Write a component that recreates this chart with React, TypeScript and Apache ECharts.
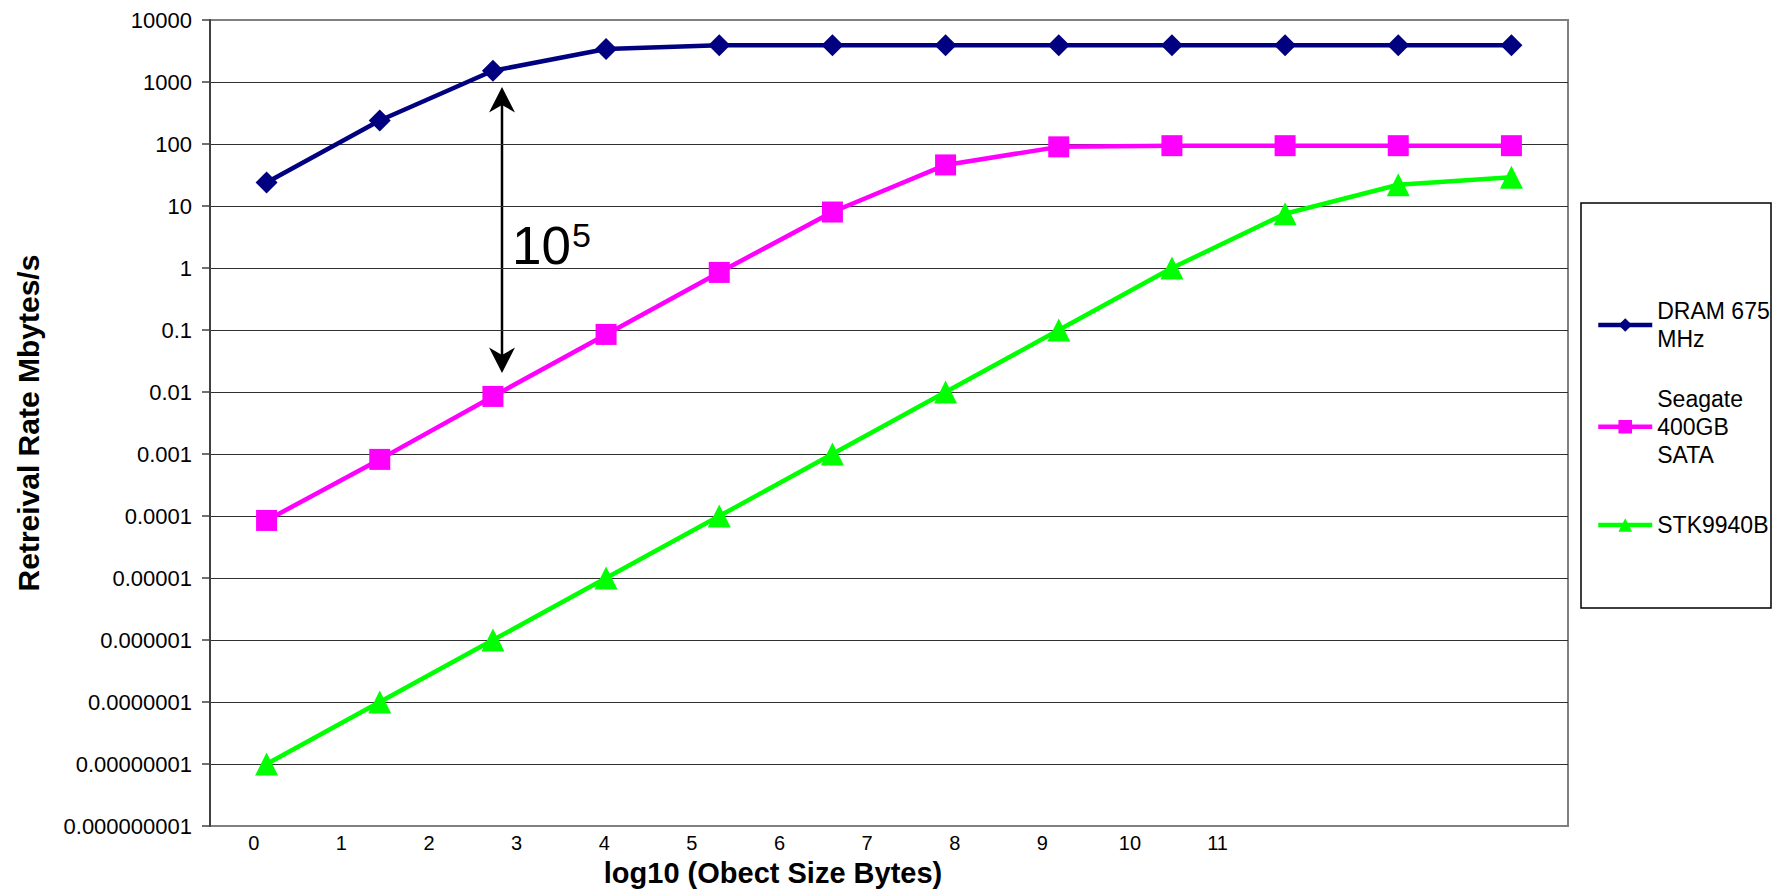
import React, { useEffect, useRef } from 'react';
import * as echarts from 'echarts';

// ---- data ----
const categories = ['0', '1', '2', '3', '4', '5', '6', '7', '8', '9', '10', '11'];
const xTickLabels = ['0', '1', '2', '3', '4', '5', '6', '7', '8', '9', '10', '11'];
const seriesNames = ['DRAM 675 MHz', 'Seagate 400GB SATA', 'STK9940B'];
const legendLabels = ['DRAM 675\nMHz', 'Seagate\n400GB\nSATA', 'STK9940B'];
const dramValues = [24, 240, 1520, 3400, 3900, 3900, 3900, 3900, 3900, 3900, 3900, 3900];
const seagateValues = [0.000085, 0.00082, 0.0085, 0.085, 0.85, 8, 46, 90, 94, 94, 94, 94];
const stkValues = [1e-8, 1e-7, 1e-6, 1e-5, 1e-4, 1e-3, 0.01, 0.1, 1, 7.5, 22, 29];
const yMin = 1e-9;
const yMax = 1e4;
const xTitle = 'log10 (Obect Size Bytes)';
const yTitle = 'Retreival Rate Mbytes/s';
const annotationBase = '10';
const annotationExp = '5';

const FONT = '"Liberation Sans", Arial, sans-serif';
const colors = ['#000080', '#FF00FF', '#00FF00'];
const symbols = ['diamond', 'rect', 'triangle'];
const symbolSizes = [22, 21, 23];

function fmtY(v: number): string {
  const e = Math.round(Math.log10(v));
  if (e >= 0) return String(Math.round(Math.pow(10, e)));
  return '0.' + '0'.repeat(-e - 1) + '1';
}

export default function App() {
  const ref = useRef<HTMLDivElement>(null);
  useEffect(() => {
    if (!ref.current) return;
    const chart = echarts.init(ref.current, undefined, { renderer: 'svg' });
    const values = [dramValues, seagateValues, stkValues];
    const legendCenters = [325, 426.7, 525];
    const L = 28;
    const option: any = {
      animation: false,
      backgroundColor: '#fff',
      textStyle: { fontFamily: FONT },
      grid: {
        left: 210,
        top: 20,
        width: 1358,
        height: 807,
        show: true,
        borderColor: '#808080',
        borderWidth: 2,
        backgroundColor: '#fff',
      },
      xAxis: [
        {
          type: 'category',
          data: categories,
          boundaryGap: true,
          show: false,
        },
        {
          type: 'value',
          position: 'bottom',
          min: 0,
          max: 15.5,
          interval: 0.5,
          axisLine: { show: false },
          axisTick: { show: false },
          splitLine: { show: false },
          axisLabel: {
            fontSize: 20,
            color: '#000',
            fontFamily: FONT,
            margin: 7,
            showMinLabel: true,
            showMaxLabel: true,
            formatter: (v: number) => {
              const k = v - 0.5;
              if (Number.isInteger(k) && k >= 0 && k < xTickLabels.length) return xTickLabels[k];
              return '';
            },
          },
          name: xTitle,
          nameLocation: 'middle',
          nameGap: 30,
          nameTextStyle: {
            fontSize: 29,
            fontWeight: 'bold',
            color: '#000',
            fontFamily: FONT,
            padding: [0, 232, 0, 0],
          },
        },
      ],
      yAxis: {
        type: 'log',
        logBase: 10,
        min: yMin,
        max: yMax,
        interval: 1,
        axisLine: { show: true, lineStyle: { color: '#404040', width: 2 } },
        axisTick: { show: true, length: 8, lineStyle: { color: '#404040', width: 1.5 } },
        splitLine: {
          show: true,
          showMinLine: false,
          showMaxLine: false,
          lineStyle: { color: '#303030', width: 1.2 },
        },
        axisLabel: {
          fontSize: 22,
          color: '#000',
          fontFamily: FONT,
          margin: 18,
          formatter: (v: number) => fmtY(v),
        },
        name: yTitle,
        nameLocation: 'middle',
        nameGap: 167,
        nameTextStyle: {
          fontSize: 30,
          fontWeight: 'bold',
          color: '#000',
          fontFamily: FONT,
        },
      },
      legend: seriesNames.map((n, i) => {
        const lines = legendLabels[i].split('\n').length;
        return {
          data: [{ name: n, textStyle: { padding: [(lines - 1) * L, 0, 0, 0] } }],
          orient: 'vertical',
          left: 1596,
          top: legendCenters[i] - ((2 * lines - 1) * L) / 2,
          padding: 0,
          itemWidth: 54,
          itemHeight: 17,
          itemGap: 0,
          selectedMode: false,
          lineStyle: { width: 4.5 },
          formatter: (name: string) => legendLabels[seriesNames.indexOf(name)],
          textStyle: { fontSize: 23, lineHeight: L, color: '#000', fontFamily: FONT },
        };
      }),
      series: seriesNames.map((n, i) => ({
        name: n,
        type: 'line',
        xAxisIndex: 0,
        data: values[i],
        symbol: symbols[i],
        symbolSize: symbolSizes[i],
        showAllSymbol: true,
        lineStyle: { color: colors[i], width: 4.5 },
        itemStyle: { color: colors[i] },
        z: 3 + (2 - i),
      })),
      graphic: [
        {
          type: 'rect',
          shape: { x: 1581, y: 203, width: 190, height: 405 },
          style: { fill: 'none', stroke: '#000', lineWidth: 1.5 },
        },
        {
          type: 'line',
          shape: { x1: 502, y1: 100, x2: 502, y2: 360 },
          style: { stroke: '#000', lineWidth: 2.5 },
        },
        {
          type: 'polygon',
          shape: { points: [[502, 87], [489, 112.5], [502, 105], [515, 112.5]] },
          style: { fill: '#000' },
        },
        {
          type: 'polygon',
          shape: { points: [[502, 373], [489, 347.5], [502, 355], [515, 347.5]] },
          style: { fill: '#000' },
        },
        {
          type: 'text',
          x: 512,
          y: 245,
          style: {
            text: annotationBase,
            fontSize: 53,
            fontFamily: FONT,
            fill: '#000',
            align: 'left',
            verticalAlign: 'middle',
          },
        },
        {
          type: 'text',
          x: 572,
          y: 235,
          style: {
            text: annotationExp,
            fontSize: 34,
            fontFamily: FONT,
            fill: '#000',
            align: 'left',
            verticalAlign: 'middle',
          },
        },
      ],
    };
    chart.setOption(option);
    return () => chart.dispose();
  }, []);
  return (
    <div
      ref={ref}
      style={{ position: 'fixed', left: 0, top: 0, width: '1773px', height: '892px', background: '#fff' }}
    />
  );
}
